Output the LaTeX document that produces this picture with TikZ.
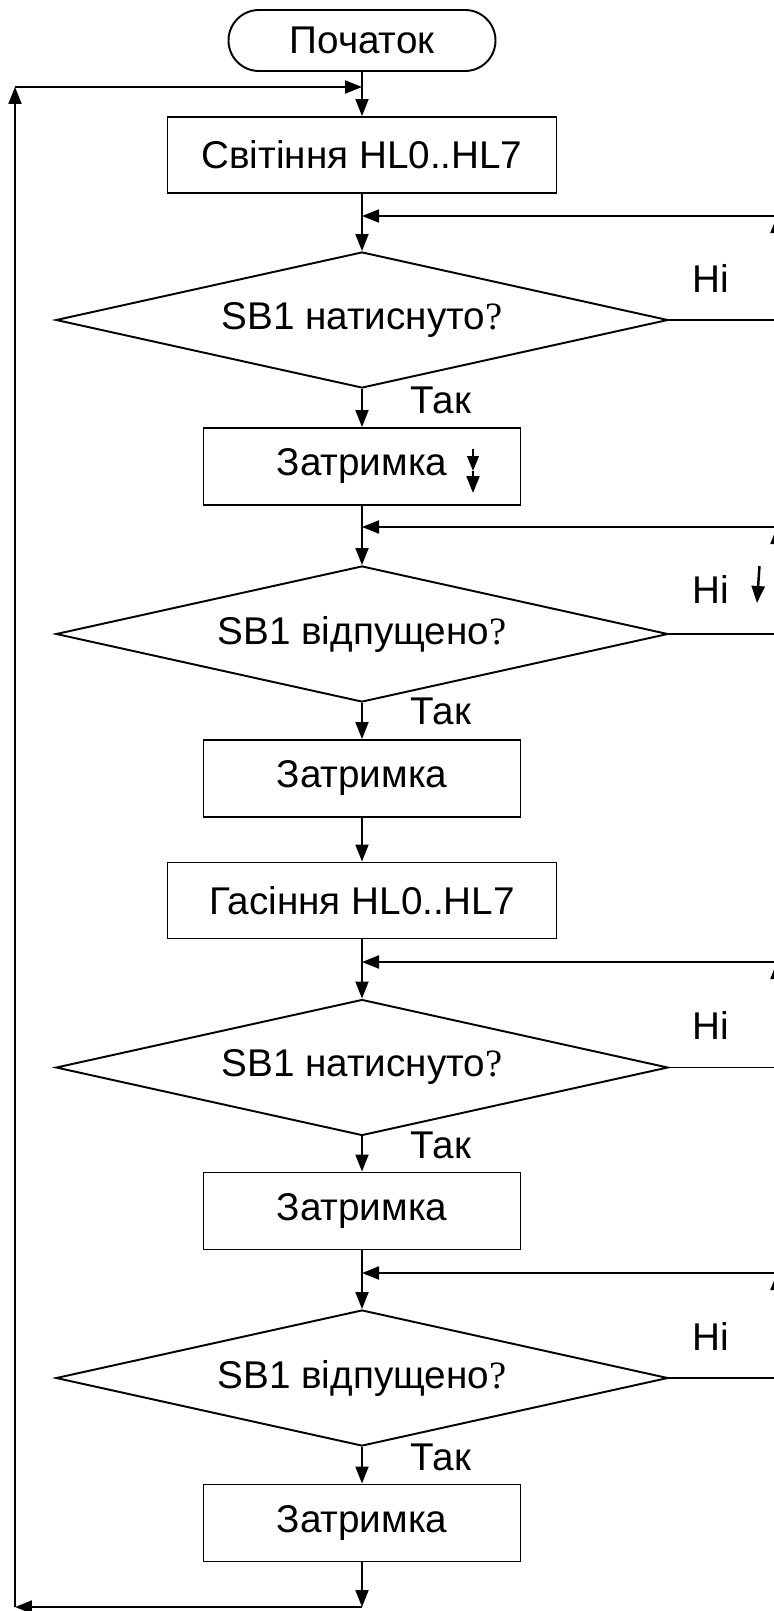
\documentclass[tikz,border=0pt]{standalone}
\usepackage{fontspec}
\setmainfont{Liberation Sans}
\newfontfamily\qmark{Liberation Serif}
\usetikzlibrary{arrows.meta,shapes.geometric}

\tikzset{
  terminal/.style={draw, rounded corners=0.61cm, minimum width=5.34cm, minimum height=1.22cm},
  procbox/.style={draw, minimum width=7.78cm, minimum height=1.52cm},
  delaybox/.style={draw, minimum width=6.34cm, minimum height=1.54cm},
  decision/.style={draw, diamond, aspect=4.5, minimum width=12.24cm, minimum height=2.72cm, inner sep=0pt},
}

\begin{document}
\begin{tikzpicture}[line width=1.1pt, >={Triangle[length=3.4mm,width=2.6mm]},
    every node/.style={font=\fontsize{22}{26}\selectfont}]

    \useasboundingbox (-7.24,0) rectangle (8.24,-32.22);

    % blocks down the middle
    \node[terminal] (start) at (0,-0.81) {Початок};
    \node[procbox]  (light) at (0,-3.10) {Світіння HL0..HL7};
    \node[decision] (press1) at (0,-6.40) {SB1 натиснуто{\qmark ?}};
    \node[delaybox] (wait1) at (0,-9.33) {Затримка};
    \node[decision] (free1) at (0,-12.68) {SB1 відпущено{\qmark ?}};
    \node[delaybox] (wait2) at (0,-15.57) {Затримка};
    \node[procbox]  (dark) at (0,-18.01) {Гасіння HL0..HL7};
    \node[decision] (press2) at (0,-21.35) {SB1 натиснуто{\qmark ?}};
    \node[delaybox] (wait3) at (0,-24.22) {Затримка};
    \node[decision] (free2) at (0,-27.56) {SB1 відпущено{\qmark ?}};
    \node[delaybox] (wait4) at (0,-30.46) {Затримка};

    % yes / no labels
    \node (no1) at (6.98,-5.56) {Ні};
    \node (no2) at (6.98,-11.78) {Ні};
    \node (no3) at (6.98,-20.50) {Ні};
    \node (no4) at (6.98,-26.72) {Ні};
    \node (yes1) at (1.58,-8.00) {Так};
    \node (yes2) at (1.58,-14.22) {Так};
    \node (yes3) at (1.58,-22.90) {Так};
    \node (yes4) at (1.58,-29.14) {Так};

    % joints of the loops
    \coordinate (top) at (0,-1.74);
    \coordinate (topL) at (-6.94,-1.74);
    \coordinate (bot) at (0,-32.14);
    \coordinate (botL) at (-6.94,-32.14);
    \coordinate (m1) at (0,-4.32);
    \coordinate (m2) at (0,-10.54);
    \coordinate (m3) at (0,-19.24);
    \coordinate (m4) at (0,-25.46);
    \coordinate (r1) at (8.30,-4.32);
    \coordinate (r2) at (8.30,-10.54);
    \coordinate (r3) at (8.30,-19.24);
    \coordinate (r4) at (8.30,-25.46);

    % main line
    \draw[->] (start) -- (light);
    \draw[->] (light) -- (press1);
    \draw[->] (press1) -- (wait1);
    \draw[->] (wait1) -- (free1);
    \draw[->] (free1) -- (wait2);
    \draw[->] (wait2) -- (dark);
    \draw[->] (dark) -- (press2);
    \draw[->] (press2) -- (wait3);
    \draw[->] (wait3) -- (free2);
    \draw[->] (free2) -- (wait4);

    % big loop on the left
    \draw[->] (wait4) -- (bot);
    \draw[->] (bot) -- (botL);
    \draw[->] (botL) -- (topL);
    \draw[->] (topL) -- (top);

    % "no" loops on the right
    \draw[->] (press1.east) -| (r1);
    \draw[->] (r1) -- (m1);
    \draw[->] (free1.east) -| (r2);
    \draw[->] (r2) -- (m2);
    \draw[->] (press2.east) -| (r3);
    \draw[->] (r3) -- (m3);
    \draw[->] (free2.east) -| (r4);
    \draw[->] (r4) -- (m4);

    % stray arrows
    \draw[line width=1.3pt, -{Triangle[length=3mm,width=2.3mm]}] (2.22,-8.98) -- (2.22,-9.42);
    \draw[line width=1.3pt, ->] (2.22,-9.42) -- (2.22,-9.86);
    \draw[line width=1.4pt, ->] (7.95,-11.32) -- (7.90,-12.06);

\end{tikzpicture}
\end{document}
